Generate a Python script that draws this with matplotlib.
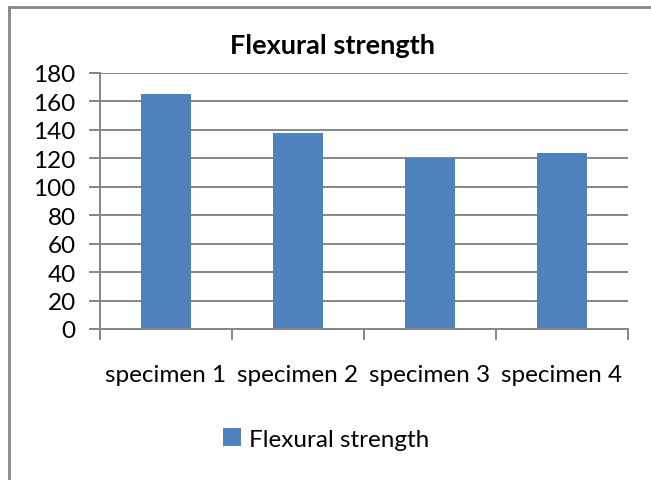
import matplotlib.pyplot as plt
from matplotlib.lines import Line2D
from matplotlib.patches import Patch

categories = ['specimen 1', 'specimen 2', 'specimen 3', 'specimen 4']
strength = [165, 138, 120, 124]
y_ticks = [0, 20, 40, 60, 80, 100, 120, 140, 160, 180]

plt.rcParams['font.family'] = ['Lato', 'DejaVu Sans']

W, H = 651, 481
fig = plt.figure(figsize=(W / 100, H / 100), dpi=100)
ax = fig.add_axes([100 / W, 1 - 330 / H, 528 / W, 256 / H])

grey = '#868686'
x = list(range(len(categories)))
ax.bar(x, strength, width=0.375, color='#4F81BD', zorder=3)
ax.set_xlim(-0.5, len(categories) - 0.5)
ax.set_ylim(0, 180)
ax.set_yticks(y_ticks)
ax.yaxis.grid(True, color=grey, linewidth=1.4, zorder=0)

# category boundary ticks, labels in between
ax.set_xticks([i - 0.5 for i in range(len(categories) + 1)])
ax.set_xticklabels([])
ax.set_xticks(x, minor=True)
ax.set_xticklabels(categories, minor=True, fontsize=17.5)
ax.tick_params(axis='x', which='major', length=8, width=1.4, color=grey)
ax.tick_params(axis='x', which='minor', length=0, pad=25.5)
ax.tick_params(axis='y', length=8, width=1.4, color=grey, labelsize=17.5, pad=9.5)

for s in ['top', 'right']:
    ax.spines[s].set_visible(False)
for s in ['left', 'bottom']:
    ax.spines[s].set_color(grey)
    ax.spines[s].set_linewidth(1.4)
    ax.spines[s].set_zorder(4)

fig.text(332 / W, 1 - 46 / H, 'Flexural strength', ha='center', va='center',
         fontsize=19.5, fontweight='bold')

# outer chart border (only left and top visible)
fig.add_artist(Line2D([9 / W, 9 / W], [0, 1 - 8 / H], transform=fig.transFigure,
                      color=grey, linewidth=2))
fig.add_artist(Line2D([9 / W, 1], [1 - 8 / H, 1 - 8 / H], transform=fig.transFigure,
                      color=grey, linewidth=2))

handle = Patch(facecolor='#4F81BD', edgecolor='none')
fig.legend([handle], ['Flexural strength'], loc='center', frameon=False,
           bbox_to_anchor=(326 / W, 1 - 440 / H), fontsize=17.5,
           handlelength=0.75, handleheight=0.75, handletextpad=0.3)

fig.savefig('out.png', dpi=100, facecolor='white')
